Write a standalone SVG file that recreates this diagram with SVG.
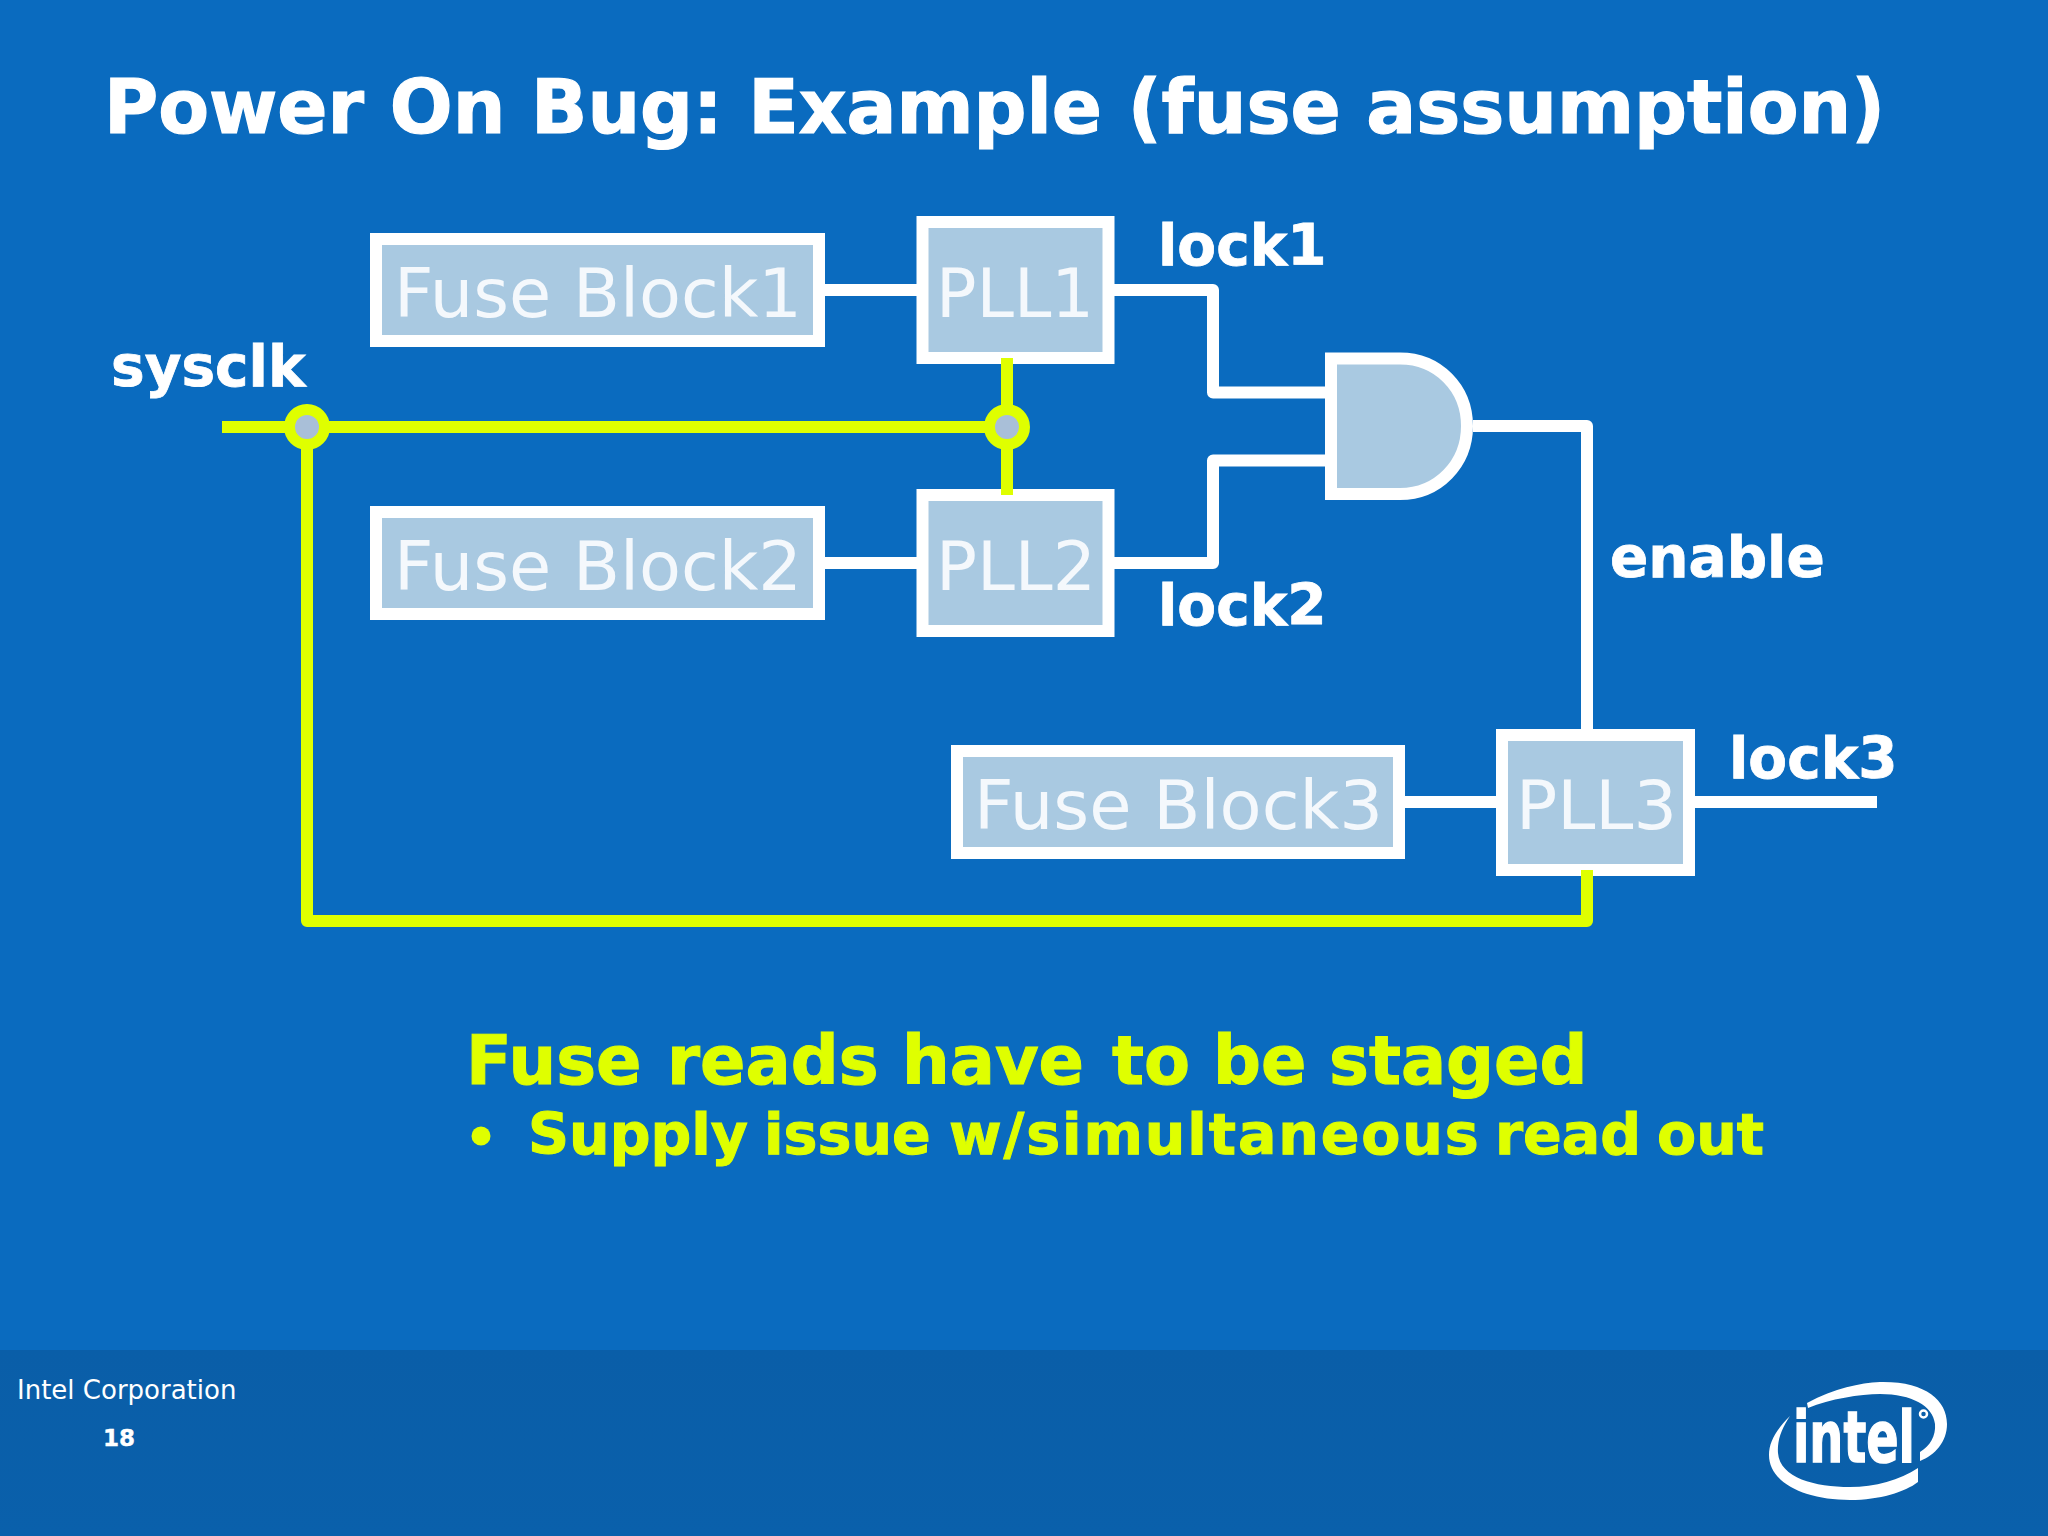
<svg xmlns="http://www.w3.org/2000/svg" width="2048" height="1536" viewBox="0 0 2048 1536">
<style>
.bg{fill:#0a6bbf}
.box{fill:#a9c9e1;stroke:#fff;stroke-width:12}
.w{fill:none;stroke:#fff;stroke-width:12;stroke-linejoin:round}
.y{fill:none;stroke:#dfff00;stroke-width:12;stroke-linejoin:round}
.j{fill:#a9bfd8;stroke:#dfff00;stroke-width:11}
text{font-family:"DejaVu Sans",sans-serif;fill:#fff}
.b{font-weight:700;stroke:#fff;stroke-width:1.2}
.lb{font-size:68.500px;fill:#f4f8fc}
.sig{font-size:56.500px;font-weight:700;stroke:#fff;stroke-width:.8}
.ye{fill:#dfff00;font-weight:700;stroke:#dfff00;stroke-width:1}
</style>
<defs><linearGradient id="foot" x1="0" y1="0" x2="0" y2="1"><stop offset="0" stop-color="#0a5ea8"/><stop offset="1" stop-color="#0a60ab"/></linearGradient></defs>
<rect class="bg" width="2048" height="1536"/>
<rect fill="url(#foot)" y="1350" width="2048" height="186"/>
<text class="b" x="104" y="133" font-size="74" textLength="1781" lengthAdjust="spacingAndGlyphs">Power On Bug: Example (fuse assumption)</text>
<g id="connectors">
<path class="w" d="M825 290H917M825 563H917M1405 802H1496M1695 802H1877"/>
<path class="w" d="M1114 290H1213V392.500H1325M1114 563H1213V460.500H1325M1473 426H1587V729"/>
</g>
<g id="fuse1"><rect class="box" x="376" y="239" width="443" height="102"/><text class="lb" x="394" y="317" textLength="408" lengthAdjust="spacingAndGlyphs">Fuse Block1</text></g>
<g id="pll1"><rect class="box" x="922.500" y="222" width="186" height="136"/><text class="lb" x="936" y="317" textLength="158" lengthAdjust="spacingAndGlyphs">PLL1</text></g>
<g id="fuse2"><rect class="box" x="376" y="512" width="443" height="102"/><text class="lb" x="394" y="590" textLength="408" lengthAdjust="spacingAndGlyphs">Fuse Block2</text></g>
<g id="pll2"><rect class="box" x="922.500" y="495" width="186" height="136"/><text class="lb" x="936" y="590" textLength="160" lengthAdjust="spacingAndGlyphs">PLL2</text></g>
<g id="fuse3"><rect class="box" x="957" y="751" width="442" height="102"/><text class="lb" x="974" y="829" textLength="409" lengthAdjust="spacingAndGlyphs">Fuse Block3</text></g>
<g id="pll3"><rect class="box" x="1502" y="735" width="187" height="135"/><text class="lb" x="1516" y="829" textLength="161" lengthAdjust="spacingAndGlyphs">PLL3</text></g>
<g id="and"><path class="box" d="M1331 358.500H1400C1438 358.500 1467 388 1467 426C1467 464 1438 494 1400 494H1331Z"/></g>
<g id="clock">
<path class="y" d="M222 427H1007M1007 358V495M307 427V921H1587V870"/>
<circle class="j" cx="307" cy="427" r="17.500"/>
<circle class="j" cx="1007" cy="427" r="17.500"/>
</g>
<g id="labels">
<text class="sig" x="111" y="386">sysclk</text>
<text class="sig" x="1158" y="265">lock1</text>
<text class="sig" x="1158" y="625">lock2</text>
<text class="sig" x="1610" y="577">enable</text>
<text class="sig" x="1729" y="778">lock3</text>
</g>
<g id="notes">
<text class="ye" y="1084" font-size="67"><tspan x="466">Fuse</tspan> <tspan x="667">reads</tspan> <tspan x="902">have</tspan> <tspan x="1112">to</tspan> <tspan x="1213">be</tspan> <tspan x="1329">staged</tspan></text>
<circle cx="481" cy="1136" r="9.500" fill="#dfff00"/>
<text class="ye" y="1154" font-size="57"><tspan x="528">Supply</tspan> <tspan x="764">issue</tspan> <tspan x="949" letter-spacing="1.900">w/simultaneous</tspan> <tspan x="1495">read</tspan> <tspan x="1657">out</tspan></text>
</g>
<g id="footer">
<text x="17" y="1399" font-size="26">Intel Corporation</text>
<text class="b" x="103" y="1446" font-size="23" style="stroke-width:.4">18</text>
</g>
<g id="logo">
<path fill="#fff" d="M1807 1403C1835 1388 1860 1383 1880 1382C1925 1381 1947 1400 1947 1424C1947 1442 1935 1455 1920 1461L1920 1452C1930 1446 1936 1436 1935 1424C1933 1406 1912 1394 1880 1394C1860 1394 1830 1399 1808 1408Z"/>
<path fill="#fff" d="M1790 1416C1776 1430 1769 1442 1769 1455C1769 1483 1805 1500 1850 1500C1880 1500 1905 1492 1918 1482L1918 1468C1900 1480 1875 1487 1850 1487C1815 1487 1780 1478 1778 1453C1777 1440 1782 1428 1790 1416Z"/>
<text x="1793" y="1462" font-size="72" font-family="Liberation Sans" font-weight="700" stroke="#fff" stroke-width="1.500" textLength="122" lengthAdjust="spacingAndGlyphs">intel</text>
<circle cx="1923.500" cy="1414" r="3.500" fill="none" stroke="#fff" stroke-width="2.500"/>
</g>
</svg>
